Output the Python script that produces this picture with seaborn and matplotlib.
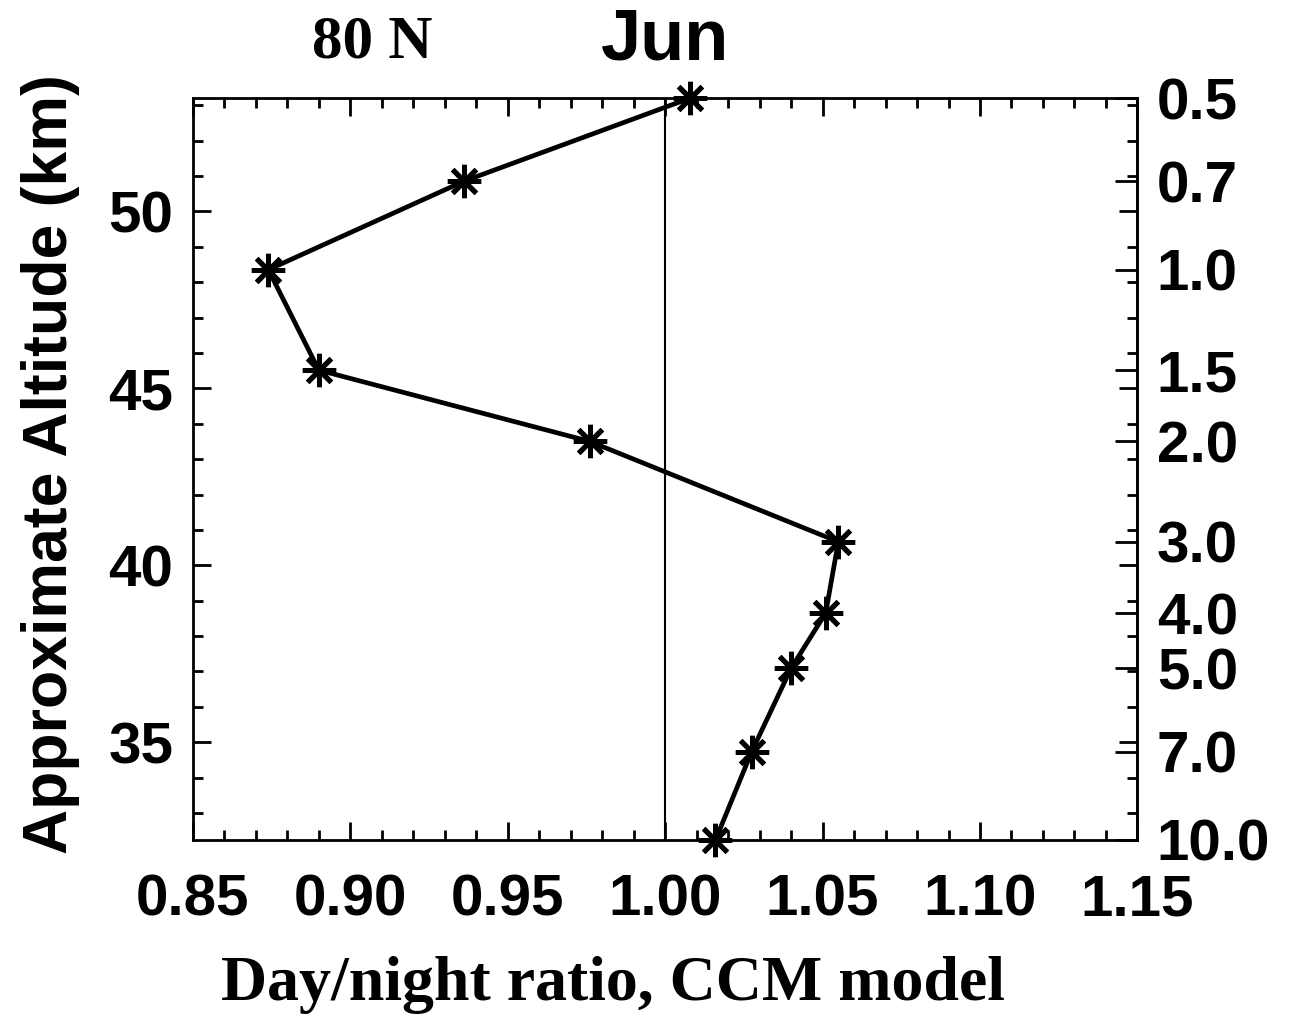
import numpy as np
import pandas as pd
import matplotlib
matplotlib.use("Agg")
import matplotlib.pyplot as plt
import seaborn as sns
from matplotlib.ticker import MultipleLocator, FixedLocator, FormatStrFormatter

# Data
pressure_hpa = [0.5, 0.7, 1.0, 1.5, 2.0, 3.0, 4.0, 5.0, 7.0, 10.0]
day_night_ratio = [1.008, 0.936, 0.874, 0.890, 0.976, 1.055, 1.051, 1.040, 1.0275, 1.016]
pressure_labels = ["0.5", "0.7", "1.0", "1.5", "2.0", "3.0", "4.0", "5.0", "7.0", "10.0"]
x_ticks = [0.85, 0.90, 0.95, 1.00, 1.05, 1.10, 1.15]
alt_ticks = [35, 40, 45, 50]

H = 7.0
def p2alt(p):
    return H * np.log(1000.0 / np.asarray(p, dtype=float))
def alt2p(z):
    return 1000.0 * np.exp(-np.asarray(z, dtype=float) / H)

df = pd.DataFrame({"ratio": day_night_ratio, "alt": p2alt(pressure_hpa)})

sns.set_theme(style="ticks")
plt.rcParams["font.family"] = ["Liberation Sans", "DejaVu Sans"]
plt.rcParams["text.color"] = "black"
plt.rcParams["axes.labelcolor"] = "black"
plt.rcParams["xtick.color"] = "black"
plt.rcParams["ytick.color"] = "black"

fig = plt.figure(figsize=(12.94, 10.19), dpi=100)
ax = fig.add_axes([0.149, 0.1757, 0.730, 0.7281])

ax.axvline(1.0, color="black", lw=1.5, zorder=1)
sns.lineplot(data=df, x="ratio", y="alt", sort=False, estimator=None, ax=ax,
             color="black", lw=3.4, marker=(8, 2, 0), markersize=24,
             markeredgewidth=3.6, markeredgecolor="black", zorder=3, clip_on=False)

ax.set_xlim(0.85, 1.15)
ax.set_ylim(p2alt(10.0), p2alt(0.5))

ax.xaxis.set_major_locator(FixedLocator(x_ticks))
ax.xaxis.set_minor_locator(MultipleLocator(0.01))
ax.xaxis.set_major_formatter(FormatStrFormatter("%.2f"))
ax.yaxis.set_major_locator(FixedLocator(alt_ticks))
ax.yaxis.set_minor_locator(MultipleLocator(1))

ax.tick_params(which="both", direction="in", top=True, right=True, width=2, color="black")
ax.tick_params(which="major", length=13, labelsize=42, pad=14)
ax.tick_params(axis="x", which="major", pad=24)
ax.tick_params(which="minor", length=7)
for lab in ax.get_xticklabels() + ax.get_yticklabels():
    lab.set_fontweight("bold")

for s in ax.spines.values():
    s.set_linewidth(2)
    s.set_color("black")

sec = ax.secondary_yaxis("right", functions=(alt2p, p2alt))
sec.yaxis.set_major_locator(FixedLocator(pressure_hpa))
sec.set_yticklabels(pressure_labels)
sec.yaxis.set_minor_locator(FixedLocator([]))
sec.tick_params(which="major", direction="in", length=16, width=2, labelsize=42, pad=14,
                colors="black")
for lab in sec.get_yticklabels():
    lab.set_fontweight("bold")
sec.spines["right"].set_linewidth(2)

ax.set_xlabel("")
ax.set_ylabel("")
fig.text(0.474, 0.033, "Day/night ratio, CCM model", family=["Liberation Serif"],
         fontweight="bold", fontsize=46, ha="center", va="center")
fig.text(0.039, 0.545, "Approximate Altitude (km)", fontweight="bold", fontsize=45,
         rotation=90, ha="center", va="center")

fig.text(0.288, 0.958, "80 N", family=["Liberation Serif"], fontweight="bold",
         fontsize=44, ha="center", va="center")
fig.text(0.514, 0.960, "Jun", fontweight="bold", fontsize=52, ha="center", va="center")

fig.savefig("out.png", dpi=100, facecolor="white")
